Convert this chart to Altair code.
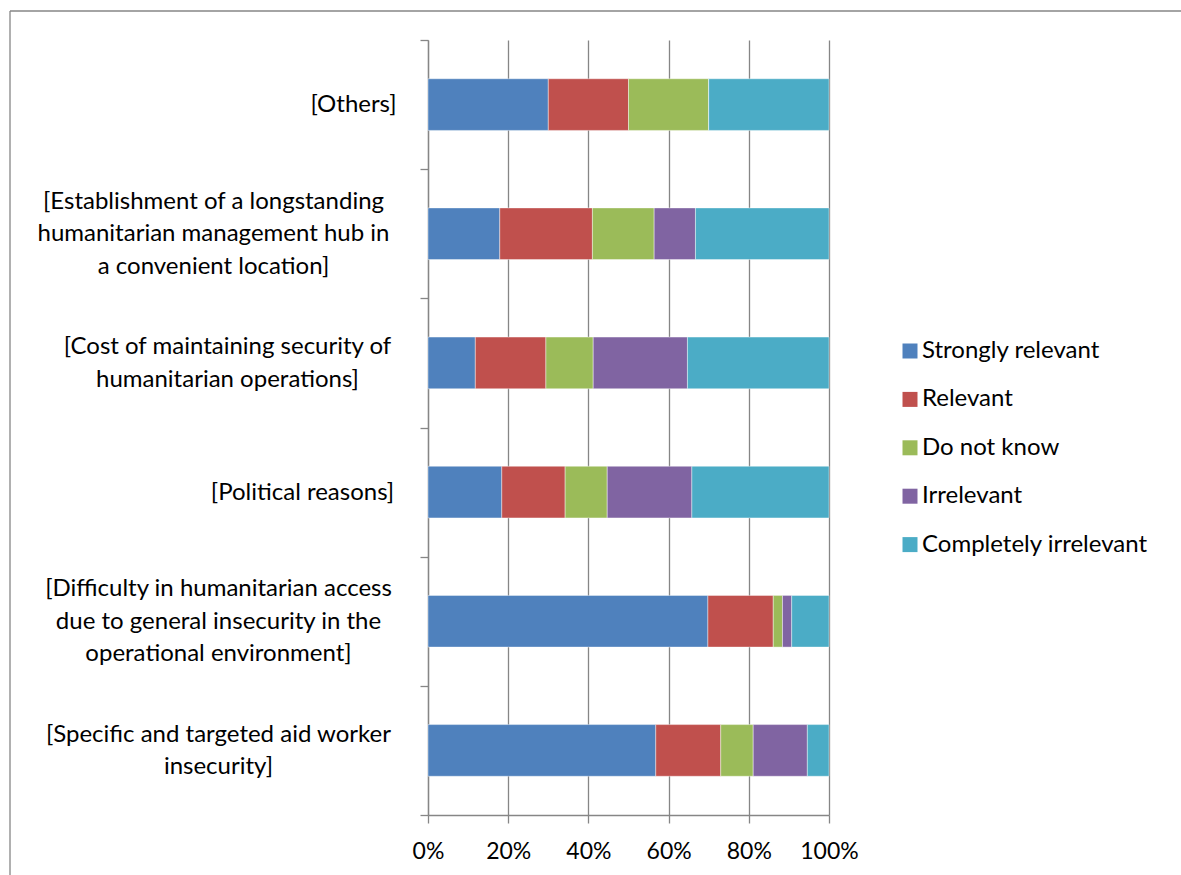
import altair as alt
import pandas as pd

# Reasons, top to bottom ("\n" marks where the axis label wraps)
reasons = [
    "[Others]",
    "[Establishment of a longstanding\nhumanitarian management hub in\na convenient location]",
    "[Cost of maintaining security of\nhumanitarian operations]",
    "[Political reasons]",
    "[Difficulty in humanitarian access\ndue to general insecurity in the\noperational environment]",
    "[Specific and targeted aid worker\ninsecurity]",
]

responses = ["Strongly relevant", "Relevant", "Do not know", "Irrelevant", "Completely irrelevant"]
colors = ["#4F81BD", "#C0504D", "#9BBB59", "#8064A2", "#4BACC6"]

# Share of answers (%) per reason, same order as `reasons`
strongly_relevant = [30.0, 17.9, 11.8, 18.4, 69.8, 56.8]
relevant = [20.0, 23.1, 17.6, 15.8, 16.3, 16.2]
do_not_know = [20.0, 15.4, 11.8, 10.5, 2.3, 8.1]
irrelevant = [0.0, 10.3, 23.5, 21.1, 2.3, 13.5]
completely_irrelevant = [30.0, 33.3, 35.3, 34.2, 9.3, 5.4]

series = [strongly_relevant, relevant, do_not_know, irrelevant, completely_irrelevant]

rows = []
for rank, (resp, vals) in enumerate(zip(responses, series)):
    for reason, v in zip(reasons, vals):
        rows.append({"reason": reason, "response": resp, "share": v, "rank": rank})
df = pd.DataFrame(rows)

FONT = "Lato"
GRID = "#868686"
LINE_H = 32.5

# distance of each label block's centre from the tick end
label_pad = {
    reasons[0]: 67,
    reasons[1]: 207,
    reasons[2]: 193,
    reasons[3]: 118,
    reasons[4]: 202,
    reasons[5]: 202,
}
pad_cond = {
    "condition": [{"test": f"datum.value === {repr(k)}", "value": v} for k, v in label_pad.items()],
    "value": 150,
}
# shift wrapped labels up so the whole block sits on the band centre
off_cond = {
    "condition": [
        {"test": f"datum.value === {repr(k)}", "value": -(k.count("\n")) * LINE_H / 2}
        for k in reasons if "\n" in k
    ],
    "value": 0,
}

bars = alt.Chart(df).mark_bar(
    height={"band": 0.4}, stroke="white", strokeWidth=0.6, strokeOpacity=0.7
).encode(
    x=alt.X(
        "share:Q",
        stack="normalize",
        scale=alt.Scale(domain=[0, 1]),
        axis=alt.Axis(
            title=None,
            format=".0%",
            values=[0, 0.2, 0.4, 0.6, 0.8, 1.0],
            grid=True,
            gridColor=GRID,
            gridWidth=1.3,
            domainColor=GRID,
            domainWidth=1.3,
            tickColor=GRID,
            tickWidth=1.3,
            tickSize=8,
            labelFont=FONT,
            labelFontSize=23,
            labelColor="black",
            labelBaseline="alphabetic",
            labelPadding=35,
            labelOverlap=False,
            labelFlush=False,
        ),
    ),
    y=alt.Y(
        "reason:N",
        sort=reasons,
        scale=alt.Scale(paddingInner=0, paddingOuter=0),
        axis=alt.Axis(
            title=None,
            grid=False,
            tickBand="extent",
            domainColor=GRID,
            domainWidth=1.3,
            tickColor=GRID,
            tickWidth=1.3,
            tickSize=8,
            labelFont=FONT,
            labelFontSize=24,
            labelColor="black",
            labelAlign="center",
            labelBaseline="middle",
            labelLineHeight=LINE_H,
            labelPadding=pad_cond,
            labelOffset=off_cond,
            labelExpr="split(datum.label, '\\n')",
            labelLimit=0,
        ),
    ),
    color=alt.Color(
        "response:N",
        sort=responses,
        scale=alt.Scale(domain=responses, range=colors),
        legend=alt.Legend(
            title=None,
            orient="none",
            legendX=470,
            legendY=299,
            symbolType="square",
            symbolSize=225,
            symbolStrokeWidth=0,
            symbolOpacity=1,
            labelFont=FONT,
            labelFontSize=24,
            labelColor="black",
            labelOffset=0,
            rowPadding=24.4,
            padding=0,
            labelLimit=0,
        ),
    ),
    order=alt.Order("rank:Q", sort="ascending"),
)

# outer frame line along the top and left edges of the chart
frame_top = alt.Chart(alt.Data(values=[{}])).mark_rule(color=GRID, strokeWidth=1.3).encode(
    x=alt.value(-418), x2=alt.value(760), y=alt.value(-29)
)
frame_left = alt.Chart(alt.Data(values=[{}])).mark_rule(color=GRID, strokeWidth=1.3).encode(
    x=alt.value(-418), y=alt.value(-29), y2=alt.value(840)
)

chart = (
    alt.layer(bars, frame_top, frame_left)
    .properties(
        width=401,
        height=775,
        autosize=alt.AutoSizeParams(type="none"),
        padding={"left": 428, "top": 40, "right": 352, "bottom": 60},
        background="white",
    )
    .configure_view(stroke=None)
)

chart.save("out.html", embed_options={"renderer": "svg", "actions": False})
